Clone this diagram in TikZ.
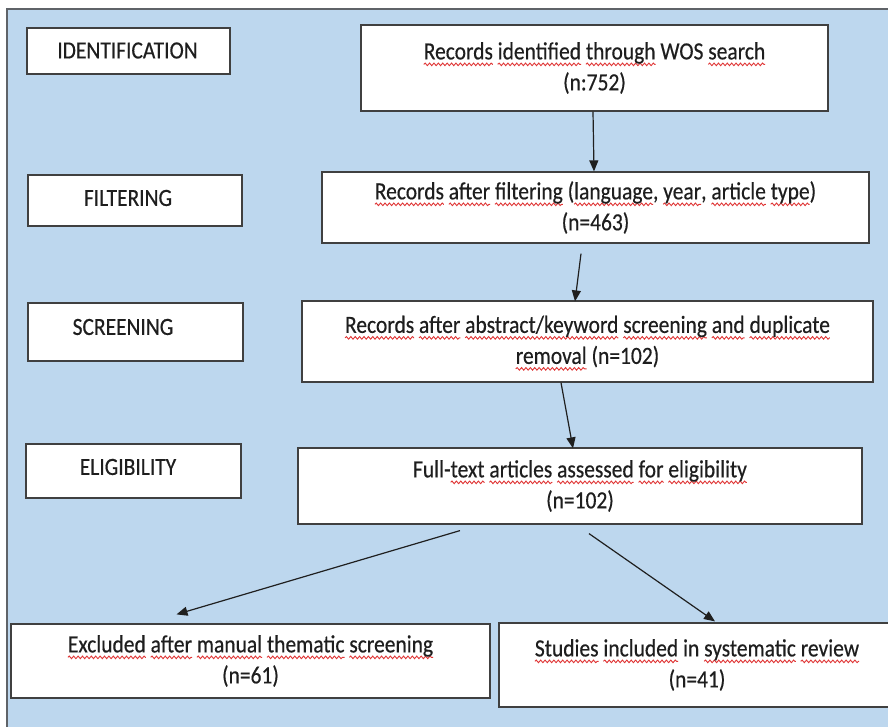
\documentclass[tikz,border=0pt]{standalone}
\usepackage{fontspec}
\setmainfont{Carlito}[FakeStretch=0.87,FakeBold=0.4]
\usetikzlibrary{arrows.meta,decorations.pathmorphing}
\definecolor{bgblue}{HTML}{BDD7EE}
\definecolor{edgegray}{HTML}{404040}
\definecolor{framegray}{HTML}{5F6368}
\definecolor{txt}{HTML}{1E1E1E}
\definecolor{squig}{HTML}{E03535}
\newsavebox\sqbox
\newcommand\sq[1]{\sbox\sqbox{#1}\rlap{\tikz[overlay,x=1pt,y=1pt,baseline=0pt]\draw[squig,line width=0.9pt,decorate,decoration={snake,amplitude=1.3pt,segment length=4.4pt}] (0,-5) -- (\the\wd\sqbox,-5);}\usebox\sqbox}
\begin{document}
\begin{tikzpicture}[x=1pt,y=-1pt,
  box/.style={draw=edgegray, fill=white, line width=1.2pt, inner sep=0pt,
    text=txt, align=center, font=\fontsize{24.7}{31}\selectfont},
  stagebox/.style={draw=edgegray, fill=white, line width=1.2pt, inner sep=0pt},
  stagetxt/.style={text=txt, inner sep=0pt, font=\fontsize{24.7}{28}\selectfont},
  arr/.style={draw=black!88, line width=1.2pt, -{Triangle[length=11pt,width=9pt]}}]
\useasboundingbox (0,0) rectangle (888,727);
% background panel
\fill[bgblue] (7,9) rectangle (905,745);
\draw[framegray, line width=1.5pt] (7,745) -- (7,9) -- (905,9);

% stage labels
\node[stagebox, minimum width=203pt, minimum height=46pt] (sid) at (128.5,51) {};
\node[stagetxt] (sidT) at (127.5,50.5) {IDENTIFICATION};
\node[stagebox, minimum width=214pt, minimum height=51pt] (sf) at (135,200.5) {};
\node[stagetxt] (sfT) at (128,198) {FILTERING};
\node[stagebox, minimum width=215pt, minimum height=58pt] (ss) at (135.5,332) {};
\node[stagetxt] (ssT) at (123,327) {SCREENING};
\node[stagebox, minimum width=215pt, minimum height=54pt] (se) at (133.5,471) {};
\node[stagetxt] (seT) at (128,467) {ELIGIBILITY};

% flow boxes
\node[box, minimum width=467pt, minimum height=86pt] (rid) at (594.5,68)
  {\sq{Records} \sq{identified} \sq{through} WOS \sq{search}\\(n:752)};
\node[box, minimum width=547pt, minimum height=71pt] (rf) at (595.5,207.5)
  {\sq{Records} \sq{after} \sq{filtering} (\sq{language}, \sq{year}, \sq{article} \sq{type})\\(n=463)};
\node[box, minimum width=571pt, minimum height=81pt] (rabs) at (587.5,341.5)
  {\sq{Records} \sq{after} \sq{abstract/keyword} \sq{screening} \sq{and} \sq{duplicate}\\\sq{removal} (n=102)};
\node[box, minimum width=564pt, minimum height=76pt] (ft) at (580,486)
  {Full-\sq{text} \sq{articles} \sq{assessed} \sq{for} \sq{eligibility}\\(n=102)};
\node[box, minimum width=479pt, minimum height=74pt] (ex) at (250.5,661)
  {\sq{Excluded} \sq{after} \sq{manual} \sq{thematic} \sq{screening}\\(n=61)};
\node[box, minimum width=396pt, minimum height=84pt] (st) at (697,665)
  {\sq{Studies} \sq{included} in \sq{systematic} \sq{review}\\(n=41)};

% connectors (yshift is in page direction: negative = downward)
\draw[arr] ([xshift=-1.5pt]rid.south) -- ([xshift=-1.5pt]rf.north);
\draw[arr] ([xshift=-14.5pt,yshift=-10pt]rf.south) -- ([xshift=-12.5pt,yshift=-1pt]rabs.north);
\draw[arr] ([xshift=-26.5pt]rabs.south) -- ([xshift=-7pt,yshift=-1pt]ft.north);
\draw[arr] ([xshift=-120pt,yshift=-6pt]ft.south) -- ([xshift=-74pt,yshift=9pt]ex.north);
\draw[arr] ([xshift=9pt,yshift=-9pt]ft.south) -- ([xshift=18pt,yshift=1pt]st.north);
\end{tikzpicture}
\end{document}
